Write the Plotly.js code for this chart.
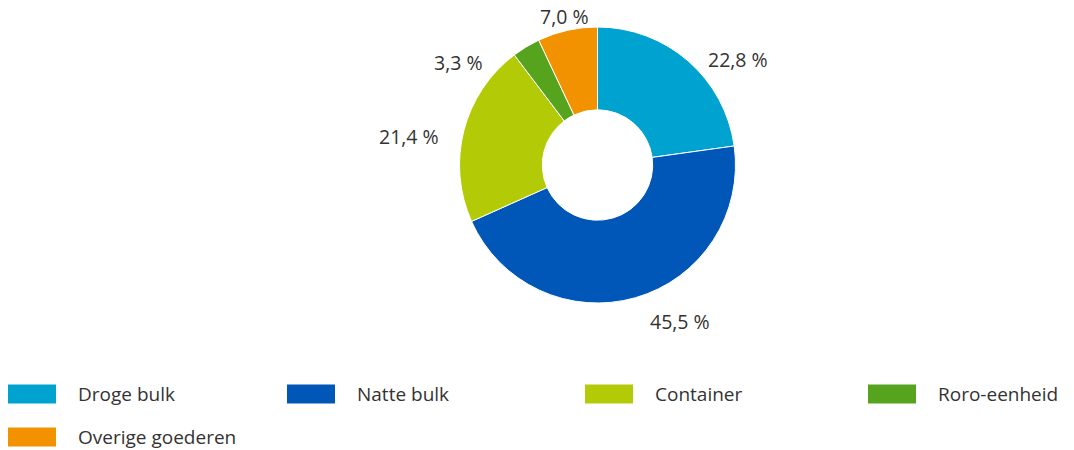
<!DOCTYPE html>
<html>
<head>
<meta charset="utf-8">
<script src="https://cdn.plot.ly/plotly-3.0.1.min.js"></script>
<style>html,body{margin:0;padding:0;background:#fff}#chart{width:1074px;height:450px}</style>
</head>
<body>
<div id="chart"></div>
<script>
var categories = ["Droge bulk", "Natte bulk", "Container", "Roro-eenheid", "Overige goederen"];
var shares = [22.8, 45.5, 21.4, 3.3, 7.0];
var colors = ["#00A2D0", "#0057B8", "#B2CB06", "#56A41E", "#F39200"];

var W = 1074, H = 450;
var cx = 597.5, cy = 165, R = 138;
var fontFam = "'Open Sans', 'Noto Sans', sans-serif";
var txtColor = "#333333";
var fontWeight = 400;

var trace = {
  type: "pie",
  labels: categories,
  values: shares,
  sort: false,
  direction: "clockwise",
  rotation: 0,
  hole: 0.40,
  marker: {colors: colors, line: {color: "#ffffff", width: 1}},
  textinfo: "none",
  showlegend: false,
  automargin: false,
  domain: {x: [(cx - R) / W, (cx + R) / W], y: [(H - cy - R) / H, (H - cy + R) / H]},
  hoverinfo: "label+value"
};

var shapes = [], annotations = [];

// outside value labels, placed from each slice's mid-angle
var total = shares.reduce(function (a, b) { return a + b; }, 0);
var labelNudge = [[0, 0], [0, 0], [0, 0], [-25, 19], [0, 1]];
var cum = 0;
shares.forEach(function (v, i) {
  var mid = (cum + v / 2) / total * 2 * Math.PI;
  cum += v;
  var s = Math.sin(mid), c = Math.cos(mid);
  var r = R + 15;
  var px = cx + r * s, py = cy - r * c;
  var side = Math.abs(s) > 0.25;
  var xa = s > 0.25 ? "left" : (s < -0.25 ? "right" : "center");
  var ya = side ? "top" : "middle";
  var xs = (s > 0.25 ? 8 : (s < -0.25 ? -8 : 0)) + labelNudge[i][0];
  var ys = (side ? 6 : 0) - labelNudge[i][1];
  annotations.push({
    xref: "paper", yref: "paper",
    x: px / W, y: (H - py) / H,
    xanchor: xa, yanchor: ya, xshift: xs, yshift: ys,
    text: v.toFixed(1).replace(".", ",") + "\u00a0%",
    showarrow: false,
    font: {family: fontFam, size: 19.5, color: txtColor, weight: fontWeight}
  });
});

// custom legend built from the category arrays
var colX = [8, 287, 585, 868];
var rowY = [394, 437];
categories.forEach(function (c, i) {
  var col = i % 4, row = Math.floor(i / 4);
  var x0 = colX[col], yc = rowY[row];
  shapes.push({
    type: "rect", xref: "paper", yref: "paper",
    x0: x0 / W, x1: (x0 + 48) / W,
    y0: (H - (yc - 9.5)) / H, y1: (H - (yc + 9.5)) / H,
    fillcolor: colors[i], line: {width: 0}
  });
  annotations.push({
    xref: "paper", yref: "paper",
    x: (x0 + 68) / W, y: (H - yc) / H,
    xanchor: "left", yanchor: "middle",
    text: c, showarrow: false,
    font: {family: fontFam, size: 19, color: txtColor, weight: fontWeight}
  });
});

var layout = {
  width: W, height: H,
  margin: {l: 0, r: 0, t: 0, b: 0},
  paper_bgcolor: "#ffffff",
  plot_bgcolor: "#ffffff",
  separators: ",.",
  showlegend: false,
  shapes: shapes,
  annotations: annotations,
  font: {family: fontFam, color: txtColor}
};

Plotly.newPlot("chart", [trace], layout, {displayModeBar: false, staticPlot: true});
</script>
</body>
</html>
